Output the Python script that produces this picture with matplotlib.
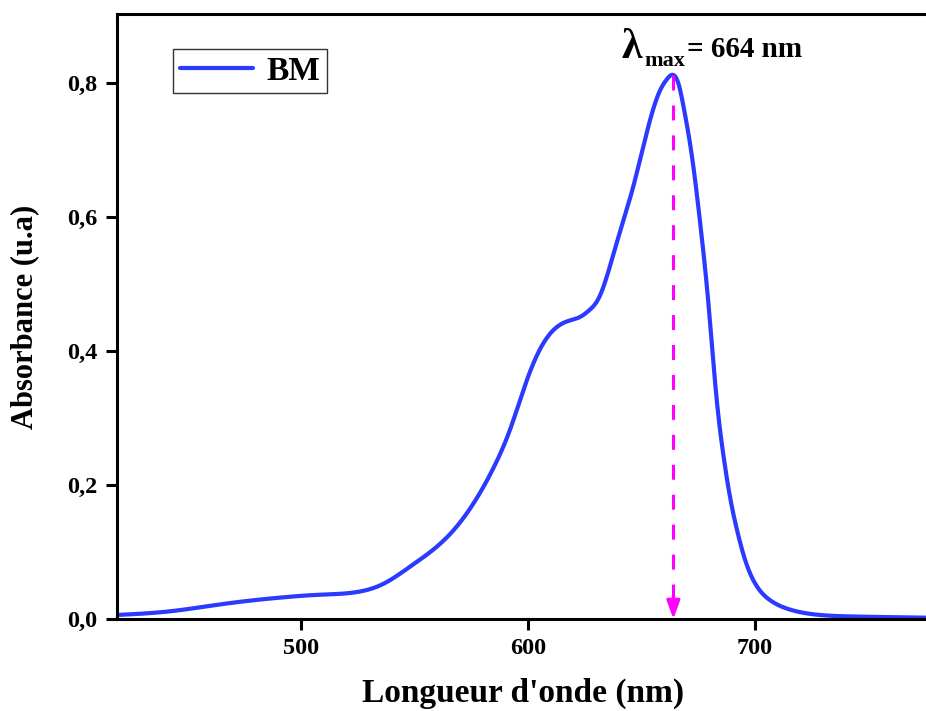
import matplotlib
matplotlib.use("Agg")
import matplotlib.pyplot as plt
import numpy as np

# UV-Vis absorbance spectrum of methylene blue (BM)
wavelength = [419, 441, 467, 491, 507, 522, 536, 548, 566, 577, 585,
              592, 599, 605, 610, 617, 623, 627, 631, 639, 646.3, 650, 654,
              658, 661, 664, 666.5, 668.4, 672.2, 676, 679.3, 683, 686, 689.5,
              692, 695.6, 700, 706.6, 715.4, 725.7, 740, 755, 775]
absorbance = [0.006, 0.011, 0.023, 0.032, 0.036, 0.039, 0.052, 0.078,
              0.128, 0.178, 0.227, 0.282, 0.352, 0.401, 0.427, 0.444,
              0.451, 0.461, 0.478, 0.561, 0.645, 0.695, 0.748,
              0.788, 0.805, 0.812, 0.796, 0.766, 0.690, 0.585, 0.476, 0.330,
              0.245, 0.172, 0.133, 0.088, 0.053, 0.028, 0.014, 0.007,
              0.004, 0.003, 0.002]
lambda_max = 664
peak_abs = 0.812

x_ticks = [500, 600, 700]
y_ticks = [0.0, 0.2, 0.4, 0.6, 0.8]
y_ticklabels = ["0,0", "0,2", "0,4", "0,6", "0,8"]

plt.rcParams["font.family"] = ["Liberation Serif", "DejaVu Serif"]
plt.rcParams["font.weight"] = "bold"

W, H = 926, 711
fig = plt.figure(figsize=(W / 100, H / 100), dpi=100)
ax_w = (930 - 117) / W
ax_h = (619 - 14) / H
ax = fig.add_axes([117 / W, 1 - 619 / H, ax_w, ax_h])


def natural_spline(x, y, xq):
    """Natural cubic spline through the points."""
    x = np.asarray(x, float)
    y = np.asarray(y, float)
    n = len(x)
    h = np.diff(x)
    A = np.zeros((n, n))
    r = np.zeros(n)
    A[0, 0] = A[-1, -1] = 1.0
    for i in range(1, n - 1):
        A[i, i - 1] = h[i - 1]
        A[i, i] = 2 * (h[i - 1] + h[i])
        A[i, i + 1] = h[i]
        r[i] = 6 * ((y[i + 1] - y[i]) / h[i] - (y[i] - y[i - 1]) / h[i - 1])
    M = np.linalg.solve(A, r)
    idx = np.clip(np.searchsorted(x, xq) - 1, 0, n - 2)
    hi = h[idx]
    a = x[idx + 1] - xq
    b = xq - x[idx]
    return (M[idx] * a**3 / (6 * hi) + M[idx + 1] * b**3 / (6 * hi)
            + (y[idx] / hi - M[idx] * hi / 6) * a
            + (y[idx + 1] / hi - M[idx + 1] * hi / 6) * b)


xf = np.linspace(wavelength[0], wavelength[-1], 2000)
yf = natural_spline(wavelength, absorbance, xf)
ax.plot(xf, yf, color="#2a3bff", lw=3.0, label="BM", solid_capstyle="round")

# dashed marker at the absorption maximum
lw_d = 2.2
ax.plot([lambda_max, lambda_max], [peak_abs, 0.03], color="#ff00ff", lw=lw_d,
        ls=(0, (4.9, 4.9)))
ax.annotate("", xy=(lambda_max, 0.0), xytext=(lambda_max, 0.035),
            arrowprops=dict(arrowstyle="-|>,head_length=1.1,head_width=0.4",
                            color="#ff00ff", lw=lw_d, shrinkA=0, shrinkB=0))

ax.set_xlim(419, 777)
ax.set_ylim(0, 0.903)
ax.set_xticks(x_ticks)
ax.set_xticklabels([str(v) for v in x_ticks])
ax.set_yticks(y_ticks)
ax.set_yticklabels(y_ticklabels)
ax.tick_params(direction="out", length=8, width=2.2, labelsize=17.5, pad=6)
for lab in ax.get_xticklabels() + ax.get_yticklabels():
    lab.set_fontweight("bold")
for side in ("left", "bottom", "top"):
    ax.spines[side].set_linewidth(2.2)
ax.spines["right"].set_visible(False)

ax.set_xlabel("Longueur d'onde (nm)", fontsize=24, fontweight="bold", labelpad=13)
ax.set_ylabel("Absorbance (u.a)", fontsize=22, fontweight="bold", labelpad=20)

leg = ax.legend(loc="upper left",
                bbox_to_anchor=((173 - 117) / (930 - 117), (619 - 49) / (619 - 14)),
                frameon=True, fancybox=False, fontsize=24, handlelength=2.2,
                handletextpad=0.4, borderpad=0.2, borderaxespad=0)
leg.get_frame().set_edgecolor("black")
leg.get_frame().set_linewidth(1.0)
for t in leg.get_texts():
    t.set_fontweight("bold")

# lambda_max label
fig.text(621 / W, 1 - 58 / H, "λ", fontsize=30, fontweight="bold",
         ha="left", va="baseline")
fig.text(644 / W, 1 - 66 / H, "max", fontsize=16, fontweight="bold",
         ha="left", va="baseline")
fig.text(687 / W, 1 - 57 / H, "= 664 nm", fontsize=21, fontweight="bold",
         ha="left", va="baseline")

fig.savefig("out.png", dpi=100)
